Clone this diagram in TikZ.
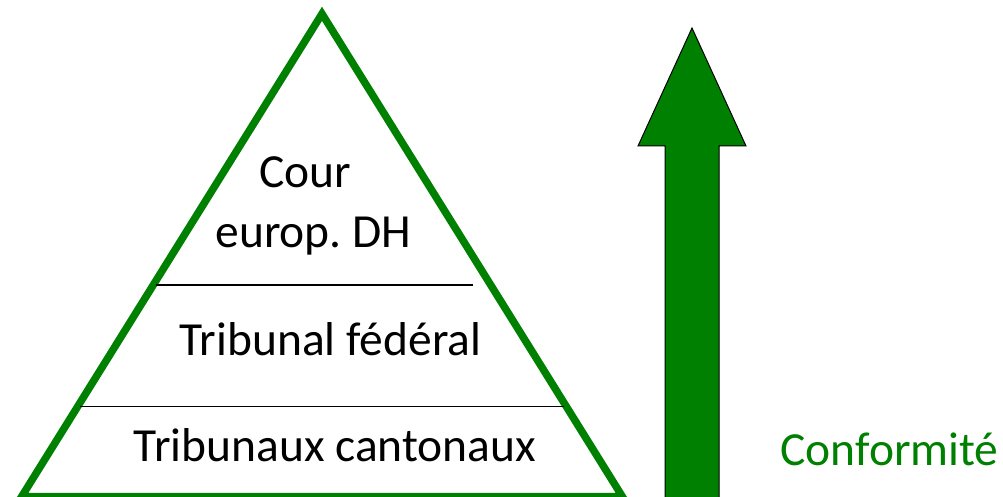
\documentclass[tikz,border=0pt]{standalone}
\usepackage{fontspec}
\setmainfont{Carlito}
\usetikzlibrary{calc,positioning}
\definecolor{PyramidGreen}{RGB}{0,128,0}

\begin{document}
\begin{tikzpicture}[x=1pt,y=-1pt,every node/.style={inner sep=0pt,anchor=base,font=\fontsize{47.5}{57}\selectfont},level/.style={draw=black,line width=1.3pt}]
\useasboundingbox (0,0) rectangle (1003,497);
\coordinate (Apex) at (322,13.8);
\coordinate (BaseWest) at (21.7,496.5);
\coordinate (BaseEast) at (622.3,496.5);
\draw [PyramidGreen,line width=7.5pt] (Apex) -- (BaseWest) -- (BaseEast) -- cycle;
\coordinate (UpperWest) at (156,285);
\coordinate (UpperEast) at (473,285);
\coordinate (LowerWest) at (80,406.5);
\coordinate (LowerEast) at (564,406.5);
\draw [level] (UpperWest) -- (UpperEast);
\draw [level] (LowerWest) -- (LowerEast);
\node (CourTop) at (305,188) {Cour};
\node (CourBottom) at (313.5,247) {europ.\ DH};
\node (TribunalFederal) at (330.5,355) {Tribunal fédéral};
\node (TribunauxCantonaux) at (335,461) {Tribunaux cantonaux};
\draw [fill=PyramidGreen,line width=1pt] (692,28) -- (746,146) -- (719,146) -- (719,500) -- (665,500) -- (665,146) -- (638,146) -- cycle;
\node [text=PyramidGreen] (Conformite) at (889.5,465) {Conformité};
\end{tikzpicture}
\end{document}
